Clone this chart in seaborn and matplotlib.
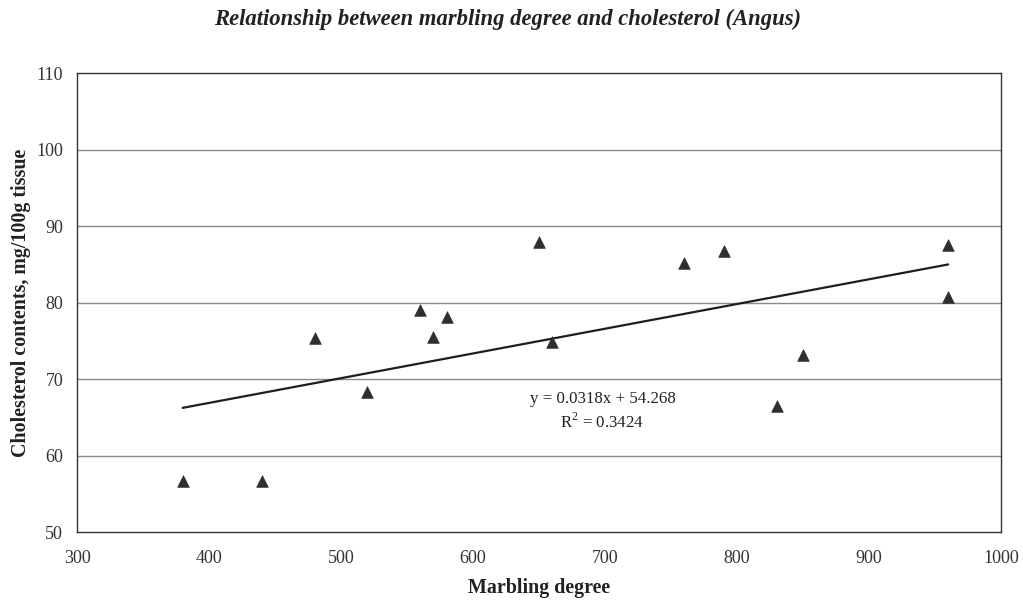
import matplotlib
matplotlib.use("Agg")
import matplotlib.pyplot as plt
import seaborn as sns
import pandas as pd

# Data
marbling = [380, 440, 480, 520, 560, 570, 580, 650, 660, 760, 790, 830, 850, 960, 960]
cholesterol = [56.7, 56.7, 75.4, 68.3, 79.0, 75.5, 78.1, 87.9, 74.8, 85.2, 86.7, 66.5, 73.1, 87.5, 80.7]
x_ticks = [300, 400, 500, 600, 700, 800, 900, 1000]
y_ticks = [50, 60, 70, 80, 90, 100, 110]
equation_text = "y = 0.0318x + 54.268"
r2_text = "R$^2$ = 0.3424"
title_text = "Relationship between marbling degree and cholesterol (Angus)"
x_label = "Marbling degree"
y_label = "Cholesterol contents, mg/100g tissue"

df = pd.DataFrame({"Marbling degree": marbling, "Cholesterol": cholesterol})

sns.set_style("white")
plt.rcParams["font.family"] = ["Liberation Serif", "DejaVu Serif"]
plt.rcParams["mathtext.fontset"] = "custom"
plt.rcParams["mathtext.rm"] = "Liberation Serif"

fig = plt.figure(figsize=(10.23, 6.01), dpi=100)
ax = fig.add_axes([0.0753, 0.1148, 0.9032, 0.7637])

for yv in y_ticks[1:-1]:
    ax.axhline(yv, color="#8a8a8a", lw=1.0, zorder=0)

sns.regplot(data=df, x="Marbling degree", y="Cholesterol", ax=ax, scatter=False,
            ci=None, truncate=True, line_kws=dict(color="#1e1e1e", lw=1.6))
sns.scatterplot(data=df, x="Marbling degree", y="Cholesterol", ax=ax, marker="^",
                s=70, color="#2e2e2e", edgecolor="#2e2e2e", linewidth=0.5, zorder=3)

ax.set_xlim(300, 1000)
ax.set_ylim(50, 110)
ax.set_xticks(x_ticks)
ax.set_yticks(y_ticks)
ax.tick_params(axis="x", direction="in", length=5, width=0.8, pad=13, labelsize=13, colors="#333333")
ax.tick_params(axis="y", length=0, pad=10, labelsize=13, colors="#333333")
for sp in ax.spines.values():
    sp.set_color("#333333")
    sp.set_linewidth(1.0)

ax.set_xlabel(x_label, fontsize=14.4, fontweight="bold", labelpad=8, color="#222222")
ax.set_ylabel(y_label, fontsize=14.4, fontweight="bold", labelpad=4, color="#222222")
fig.text(0.5 * (213 + 802) / 1023, 1 - 19 / 601, title_text, fontsize=16.3, fontweight="bold",
         style="italic", ha="center", va="center", color="#222222")

ax.text(698, 67.4, equation_text, ha="center", va="center", fontsize=12.2, color="#222222")
ax.text(698, 64.4, r2_text, ha="center", va="center", fontsize=12.2, color="#222222")

fig.savefig("out.png", dpi=100)
